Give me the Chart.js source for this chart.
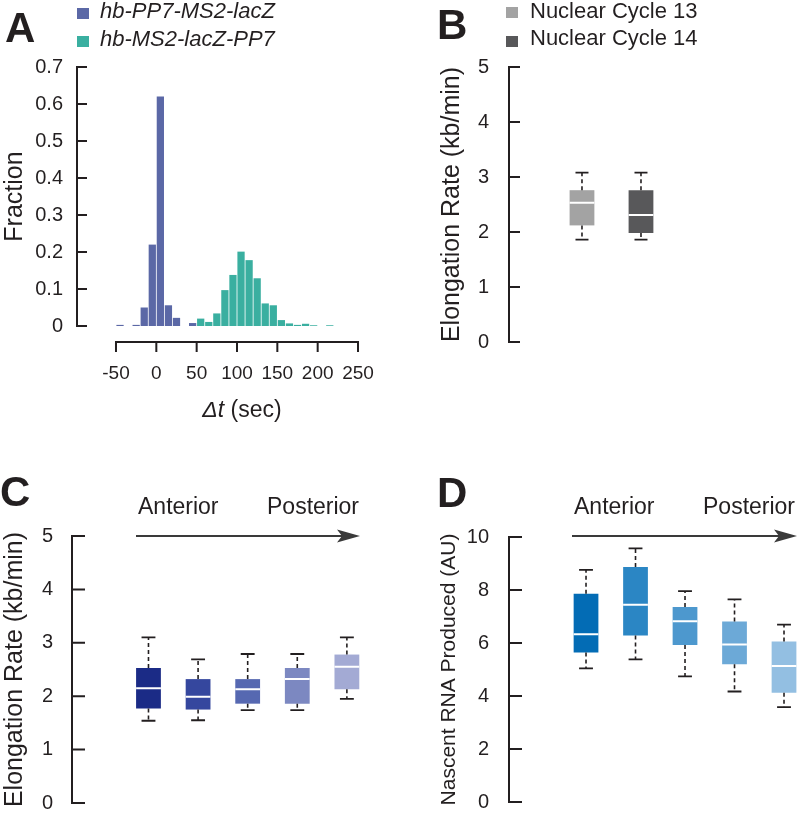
<!DOCTYPE html>
<html lang="en">
<head>
<meta charset="UTF-8">
<title>Transcription elongation</title>
<script src="https://cdn.jsdelivr.net/npm/chart.js"></script>
<style>
  body { margin: 0; background: #fff; font-family: 'Liberation Sans', Arial, sans-serif; color: #231f20; }
  #fig { position: relative; width: 800px; height: 826px; overflow: hidden; }
  canvas, .txt, svg, .sw { position: absolute; }
  .txt { line-height: 1; white-space: nowrap; }
  .letter { font-weight: bold; font-size: 42px; }
  .leg { font-size: 22px; }
  .ap { font-size: 23px; }
  .sw { width: 12px; height: 11px; }
</style>
</head>
<body>
<div id="fig">
  <canvas id="cA" width="400" height="400" style="left:0;top:0"></canvas>
  <canvas id="cB" width="400" height="400" style="left:400px;top:0"></canvas>
  <canvas id="cC" width="400" height="426" style="left:0;top:400px"></canvas>
  <canvas id="cD" width="400" height="426" style="left:400px;top:400px"></canvas>

  <div class="txt letter" style="left:5px;top:7px">A</div>
  <div class="txt letter" style="left:437px;top:4px">B</div>
  <div class="txt letter" style="left:0;top:471px">C</div>
  <div class="txt letter" style="left:437px;top:472px">D</div>

  <div class="sw" style="left:77px;top:8px;background:#5b68a6"></div>
  <div class="txt leg" style="left:100px;top:0"><i>hb-PP7-MS2-lacZ</i></div>
  <div class="sw" style="left:77px;top:36px;background:#3aafa0"></div>
  <div class="txt leg" style="left:100px;top:28px"><i>hb-MS2-lacZ-PP7</i></div>

  <div class="sw" style="left:506px;top:7px;background:#a3a3a3"></div>
  <div class="txt leg" style="left:530px;top:0">Nuclear Cycle 13</div>
  <div class="sw" style="left:506px;top:36px;background:#58585a"></div>
  <div class="txt leg" style="left:530px;top:27px">Nuclear Cycle 14</div>

  <div class="txt" style="left:142px;top:398px;width:200px;text-align:center;font-size:23px"><i>Δt</i> (sec)</div>

  <div class="txt ap" style="left:138px;top:495px">Anterior</div>
  <div class="txt ap" style="left:267px;top:495px">Posterior</div>
  <div class="txt ap" style="left:574px;top:495px">Anterior</div>
  <div class="txt ap" style="left:703px;top:495px">Posterior</div>

  <svg width="800" height="826" style="left:0;top:0">
    <line x1="136" y1="536" x2="350" y2="536" stroke="#3a3a3a" stroke-width="2"/>
    <polygon points="360,536 337,529.5 342,536 337,542.5" fill="#3a3a3a"/>
    <line x1="572" y1="536" x2="787" y2="536" stroke="#3a3a3a" stroke-width="2"/>
    <polygon points="797,536 774,529.5 779,536 774,542.5" fill="#3a3a3a"/>
  </svg>
</div>

<script>
  // A: fraction of spots per 10 s bin of delta t (bin centres)
  const binsPP7First = [-45, -25, -15, -5, 5, 15, 25, 45];
  const fracPP7First = [0.003, 0.003, 0.05, 0.22, 0.62, 0.056, 0.022, 0.008];
  const binsMS2First = [55, 65, 75, 85, 95, 105, 115, 125, 135, 145, 155, 165, 175, 185, 195, 215];
  const fracMS2First = [0.02, 0.011, 0.034, 0.097, 0.138, 0.201, 0.178, 0.129, 0.061, 0.056, 0.016, 0.007, 0.003, 0.006, 0.002, 0.002];
  const dtTicks = [-50, 0, 50, 100, 150, 200, 250];

  // B: elongation rate per nuclear cycle (kb/min)
  const cyclePos = [1, 2];
  const cycleMin = [1.86, 1.86];
  const cycleQ1 = [2.12, 1.98];
  const cycleMed = [2.53, 2.31];
  const cycleQ3 = [2.76, 2.76];
  const cycleMax = [3.08, 3.08];

  // C: elongation rate along the AP axis (kb/min)
  const apPos = [1, 2, 3, 4, 5];
  const rateMin = [1.54, 1.55, 1.74, 1.74, 1.95];
  const rateQ1 = [1.77, 1.75, 1.86, 1.86, 2.13];
  const rateMed = [2.15, 1.99, 2.13, 2.32, 2.55];
  const rateQ3 = [2.53, 2.32, 2.32, 2.53, 2.78];
  const rateMax = [3.10, 2.69, 2.79, 2.79, 3.10];

  // D: nascent RNA produced along the AP axis (AU)
  const rnaMin = [5.04, 5.38, 4.74, 4.17, 3.58];
  const rnaQ1 = [5.64, 6.28, 5.92, 5.20, 4.12];
  const rnaMed = [6.33, 7.44, 6.82, 5.94, 5.13];
  const rnaQ3 = [7.86, 8.87, 7.36, 6.81, 6.06];
  const rnaMax = [8.76, 9.57, 7.96, 7.65, 6.69];

  const INK = '#231f20';
  const PP7_BLUE = '#5b68a6';
  const MS2_TEAL = '#3aafa0';
  const greys = ['#a3a3a3', '#58585a'];
  const purples = ['#1b2b86', '#35479e', '#5668b1', '#7c88c1', '#a3aad4'];
  const blues = ['#036cb5', '#2b86c4', '#4d98ce', '#6ca9d7', '#93bfe2'];

  Chart.defaults.font.family = "'Liberation Sans', Arial, sans-serif";
  Chart.defaults.color = INK;

  // axis lines with ticks pointing into the plot, detached x axis for A
  const frameAxes = {
    id: 'frameAxes',
    afterDatasetsDraw(chart, args, o) {
      const ctx = chart.ctx, a = chart.chartArea, ys = chart.scales.y;
      ctx.save();
      ctx.strokeStyle = INK;
      ctx.lineWidth = 2;
      ctx.beginPath();
      ctx.moveTo(a.left, ys.getPixelForValue(ys.max) - 1);
      ctx.lineTo(a.left, ys.getPixelForValue(0) + 1);
      ys.ticks.forEach(t => {
        const p = ys.getPixelForValue(t.value);
        ctx.moveTo(a.left, p);
        ctx.lineTo(a.left + o.tick, p);
      });
      if (o.xGap) {
        const xs = chart.scales.x, yy = a.bottom + o.xGap, t = xs.ticks;
        ctx.moveTo(xs.getPixelForValue(t[0].value) - 1, yy);
        ctx.lineTo(xs.getPixelForValue(t[t.length - 1].value) + 1, yy);
        t.forEach(tk => {
          const p = xs.getPixelForValue(tk.value);
          ctx.moveTo(p, yy);
          ctx.lineTo(p, yy + o.xTick);
        });
      }
      ctx.stroke();
      ctx.restore();
    }
  };

  new Chart(document.getElementById('cA'), {
    type: 'bar',
    data: {
      datasets: [
        { label: 'hb-PP7-MS2-lacZ', data: binsPP7First.map((x, i) => ({ x, y: fracPP7First[i] })), backgroundColor: PP7_BLUE },
        { label: 'hb-MS2-lacZ-PP7', data: binsMS2First.map((x, i) => ({ x, y: fracMS2First[i] })), backgroundColor: MS2_TEAL }
      ]
    },
    options: {
      responsive: false,
      animation: false,
      events: [],
      layout: { padding: { left: 0, top: 67, right: 3, bottom: 0 } },
      datasets: { bar: { grouped: false, barPercentage: 0.9, categoryPercentage: 1 } },
      plugins: {
        legend: { display: false },
        tooltip: { enabled: false },
        frameAxes: { tick: 10, xGap: 16, xTick: 10 }
      },
      scales: {
        x: {
          type: 'linear', offset: false, min: -98.33, max: 298.33,
          afterBuildTicks: s => { s.ticks = dtTicks.map(v => ({ value: v })); },
          ticks: { font: { size: 19 }, padding: 0, maxRotation: 0, autoSkip: false },
          grid: { display: true, drawOnChartArea: false, drawTicks: true, tickLength: 36, color: 'rgba(0,0,0,0)' },
          border: { display: false },
          afterFit: s => { s.height = 74; }
        },
        y: {
          min: 0, max: 0.7,
          ticks: { stepSize: 0.1, font: { size: 20 }, padding: 6 },
          grid: { display: false },
          border: { display: false },
          title: { display: true, text: 'Fraction', font: { size: 25 }, padding: { top: 0, bottom: 0 } },
          afterFit: s => { s.width = 77; }
        }
      }
    },
    plugins: [frameAxes]
  });

  function boxDatasets(pos, lo, q1, med, q3, hi, colors, boxW, capW) {
    const gap = x => ({ x, y: null });
    const whisk = [], caps = [], meds = [];
    pos.forEach((x, i) => {
      whisk.push({ x, y: q3[i] }, { x, y: hi[i] }, gap(x), { x, y: q1[i] }, { x, y: lo[i] }, gap(x));
      caps.push({ x: x - capW, y: hi[i] }, { x: x + capW, y: hi[i] }, gap(x),
                { x: x - capW, y: lo[i] }, { x: x + capW, y: lo[i] }, gap(x));
      meds.push({ x: x - boxW / 2, y: med[i] }, { x: x + boxW / 2, y: med[i] }, gap(x));
    });
    return [
      { type: 'bar', data: pos.map((x, i) => ({ x, y: [q1[i], q3[i]] })), backgroundColor: colors,
        barPercentage: boxW, categoryPercentage: 1, order: 3 },
      { type: 'line', data: whisk, borderColor: INK, borderWidth: 1.6, borderDash: [4, 3], pointRadius: 0, order: 2 },
      { type: 'line', data: caps, borderColor: INK, borderWidth: 1.8, pointRadius: 0, order: 1 },
      { type: 'line', data: meds, borderColor: '#ffffff', borderWidth: 2, pointRadius: 0, order: 0 }
    ];
  }

  function boxChart(id, pos, lo, q1, med, q3, hi, colors, o) {
    return new Chart(document.getElementById(id), {
      type: 'bar',
      data: { datasets: boxDatasets(pos, lo, q1, med, q3, hi, colors, o.boxW, o.capW) },
      options: {
        responsive: false,
        animation: false,
        events: [],
        layout: { padding: o.pad },
        plugins: { legend: { display: false }, tooltip: { enabled: false }, frameAxes: { tick: o.tick } },
        scales: {
          x: {
            type: 'linear', display: false, offset: false, min: o.xMin, max: o.xMax,
            afterBuildTicks: s => { s.ticks = pos.map(v => ({ value: v })); }
          },
          y: {
            min: 0, max: o.yMax,
            ticks: { stepSize: o.step, font: { size: 20 }, padding: o.tickPad },
            grid: { display: false },
            border: { display: false },
            title: { display: true, text: o.title, font: { size: o.titleSize }, padding: 0 },
            afterFit: s => { s.width = o.yW; }
          }
        }
      },
      plugins: [frameAxes]
    });
  }

  boxChart('cB', cyclePos, cycleMin, cycleQ1, cycleMed, cycleQ3, cycleMax, greys, {
    boxW: 0.42, capW: 0.11, tick: 11, xMin: -0.237, xMax: 4.695, yMax: 5, step: 1,
    pad: { left: 37, top: 67, right: 0, bottom: 58 }, yW: 72, tickPad: 12,
    title: 'Elongation Rate (kb/min)', titleSize: 25
  });

  boxChart('cC', apPos, rateMin, rateQ1, rateMed, rateQ3, rateMax, purples, {
    boxW: 0.5, capW: 0.14, tick: 13, xMin: -0.542, xMax: 6.071, yMax: 5, step: 1,
    pad: { left: 0, top: 136, right: 0, bottom: 18 }, yW: 72, tickPad: 11,
    title: 'Elongation Rate (kb/min)', titleSize: 25
  });

  boxChart('cD', apPos, rnaMin, rnaQ1, rnaMed, rnaQ3, rnaMax, blues, {
    boxW: 0.5, capW: 0.14, tick: 13, xMin: -0.556, xMax: 5.323, yMax: 10, step: 2,
    pad: { left: 37, top: 137, right: 0, bottom: 11 }, yW: 72, tickPad: 12,
    title: 'Nascent RNA Produced (AU)', titleSize: 21
  });
</script>
</body>
</html>
